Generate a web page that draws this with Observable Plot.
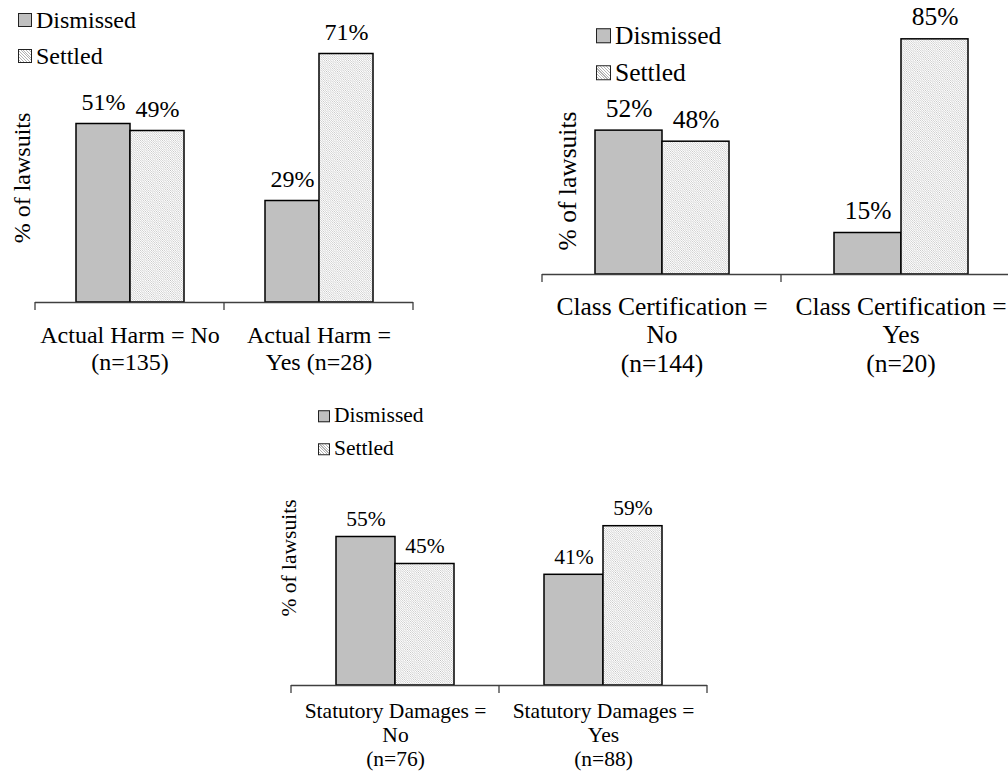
<!DOCTYPE html>
<html>
<head>
<meta charset="utf-8">
<script src="https://cdn.jsdelivr.net/npm/d3@7"></script>
<script src="https://cdn.jsdelivr.net/npm/@observablehq/plot@0.6"></script>
<style>
  html, body { margin: 0; padding: 0; background: #fff; }
  body { width: 1008px; height: 771px; overflow: hidden; position: relative;
         font-family: 'Liberation Serif', serif; color: #000; }
  .ylab { position: absolute; transform: translate(-50%, -50%) rotate(-90deg); white-space: nowrap; line-height: 1; font-family: 'Liberation Serif', serif; }
  .leg { position: absolute; display: flex; align-items: center; white-space: nowrap; line-height: 1; transform: translateY(-50%); font-family: 'Liberation Serif', serif; }
  .sw { display: inline-block; box-sizing: border-box; border: 1px solid #222; margin-right: 4px; }
  .sw.d { background: #c0c0c0; }
  .sw.s { background: repeating-linear-gradient(45deg, #fff 0 1.2px, #b4b4b4 1.2px 2px); }
</style>
</head>
<body>
<svg width="0" height="0" style="position:absolute">
  <defs>
    <pattern id="hatch" patternUnits="userSpaceOnUse" width="2.2" height="2.2">
      <rect width="2.2" height="2.2" fill="#fff"></rect>
      <path d="M-1,-1L3.2,3.2M-1,1.2L1,3.2M1.2,-1L3.2,1" stroke="#bdbdbd" stroke-width="0.7"></path>
    </pattern>
  </defs>
</svg>
<script>
const series = ["Dismissed", "Settled"];
const yLabel = "% of lawsuits";

const harmCategories = ["Actual Harm = No\n(n=135)", "Actual Harm =\nYes (n=28)"];
const harmDismissed = [51, 29];
const harmSettled = [49, 71];

const certCategories = ["Class Certification =\nNo\n(n=144)", "Class Certification =\nYes\n(n=20)"];
const certDismissed = [52, 15];
const certSettled = [48, 85];

const damagesCategories = ["Statutory Damages =\nNo\n(n=76)", "Statutory Damages =\nYes\n(n=88)"];
const damagesDismissed = [55, 41];
const damagesSettled = [45, 59];

const FONT = "'Liberation Serif', serif";
const AXIS = "#404040";

function addLabel(cls, text, x, y, fs) {
  const el = document.createElement("div");
  el.className = cls;
  el.style.left = x + "px";
  el.style.top = y + "px";
  el.style.fontSize = fs + "px";
  el.textContent = text;
  document.body.appendChild(el);
}

function addLegend(x, y1, y2, sq, fs) {
  const ys = [y1, y2];
  series.forEach((s, i) => {
    const el = document.createElement("div");
    el.className = "leg";
    el.style.left = x + "px";
    el.style.top = ys[i] + "px";
    el.style.fontSize = fs + "px";
    const sw = document.createElement("span");
    sw.className = "sw " + (i === 0 ? "d" : "s");
    sw.style.width = sq + "px";
    sw.style.height = sq + "px";
    el.appendChild(sw);
    el.appendChild(document.createTextNode(s));
    document.body.appendChild(el);
  });
}

function panel(o) {
  const rows = o.cats.flatMap((c, i) => [
    {cat: c, series: series[0], value: o.dis[i]},
    {cat: c, series: series[1], value: o.set[i]}
  ]);
  const plot = Plot.plot({
    width: o.width, height: o.height,
    marginTop: o.mt, marginRight: o.mr, marginBottom: o.mb, marginLeft: o.ml,
    style: {fontFamily: FONT, fontSize: o.fs + "px", color: "#000", background: "transparent", overflow: "visible"},
    fx: {domain: o.cats, padding: 0},
    x: {domain: series, paddingInner: 0, paddingOuter: o.pad, axis: null},
    y: {domain: [0, o.ymax], axis: null},
    marks: [
      Plot.barY(rows.filter(d => d.series === series[0]), {fx: "cat", x: "series", y: "value", fill: "#c0c0c0", stroke: "#000", strokeWidth: 1.5}),
      Plot.barY(rows.filter(d => d.series === series[1]), {fx: "cat", x: "series", y: "value", fill: "url(#hatch)", stroke: "#000", strokeWidth: 1.5}),
      Plot.ruleY([0], {stroke: AXIS, strokeWidth: 1.3}),
      Plot.text(rows, {fx: "cat", x: "series", y: "value", text: d => d.value + "%", lineAnchor: "bottom", dy: o.labelDy, fontSize: o.fs, fontFamily: FONT}),
      Plot.axisFx({anchor: "bottom", tickSize: 0, tickPadding: o.tickPad, label: null, fontSize: o.fs, fontFamily: FONT, lineHeight: 1.1})
    ]
  });
  plot.setAttribute("font-family", FONT);
  // Excel-style category ticks at band boundaries, placed with the library's scales
  const fx = plot.scale("fx"), y = plot.scale("y");
  const y0 = y.apply(0);
  const xs = o.cats.map(c => fx.apply(c)).concat([fx.apply(o.cats[o.cats.length - 1]) + fx.bandwidth]);
  const g = d3.select(plot).append("g").attr("stroke", AXIS).attr("stroke-width", 1.3);
  xs.forEach(x => g.append("line").attr("x1", x).attr("x2", x).attr("y1", y0).attr("y2", y0 + 8));
  plot.style.position = "absolute";
  plot.style.left = o.left + "px";
  plot.style.top = o.top + "px";
  plot.style.maxWidth = "none";
  document.body.appendChild(plot);
}

panel({cats: harmCategories, dis: harmDismissed, set: harmSettled,
  left: 0, top: 0, width: 430, height: 390, mt: 22, mr: 17, mb: 88, ml: 35,
  ymax: 80, pad: 0.75, fs: 24, tickPad: 22, labelDy: -14});
panel({cats: certCategories, dis: certDismissed, set: certSettled,
  left: 530, top: 0, width: 490, height: 390, mt: 25, mr: 0, mb: 116, ml: 12,
  ymax: 90, pad: 0.76, fs: 25.5, tickPad: 21, labelDy: -14});
panel({cats: damagesCategories, dis: damagesDismissed, set: damagesSettled,
  left: 280, top: 380, width: 440, height: 391, mt: 116, mr: 13, mb: 86, ml: 10,
  ymax: 70, pad: 0.74, fs: 21.5, tickPad: 16, labelDy: -11});

addLabel("ylab", yLabel, 22, 178, 24);
addLabel("ylab", yLabel, 568, 181, 25.5);
addLabel("ylab", yLabel, 290, 558, 21.5);

addLegend(18, 20, 56, 14, 24);
addLegend(596, 35.5, 73, 15, 25.5);
addLegend(318, 416, 449, 12, 21.5);
</script>
</body>
</html>
